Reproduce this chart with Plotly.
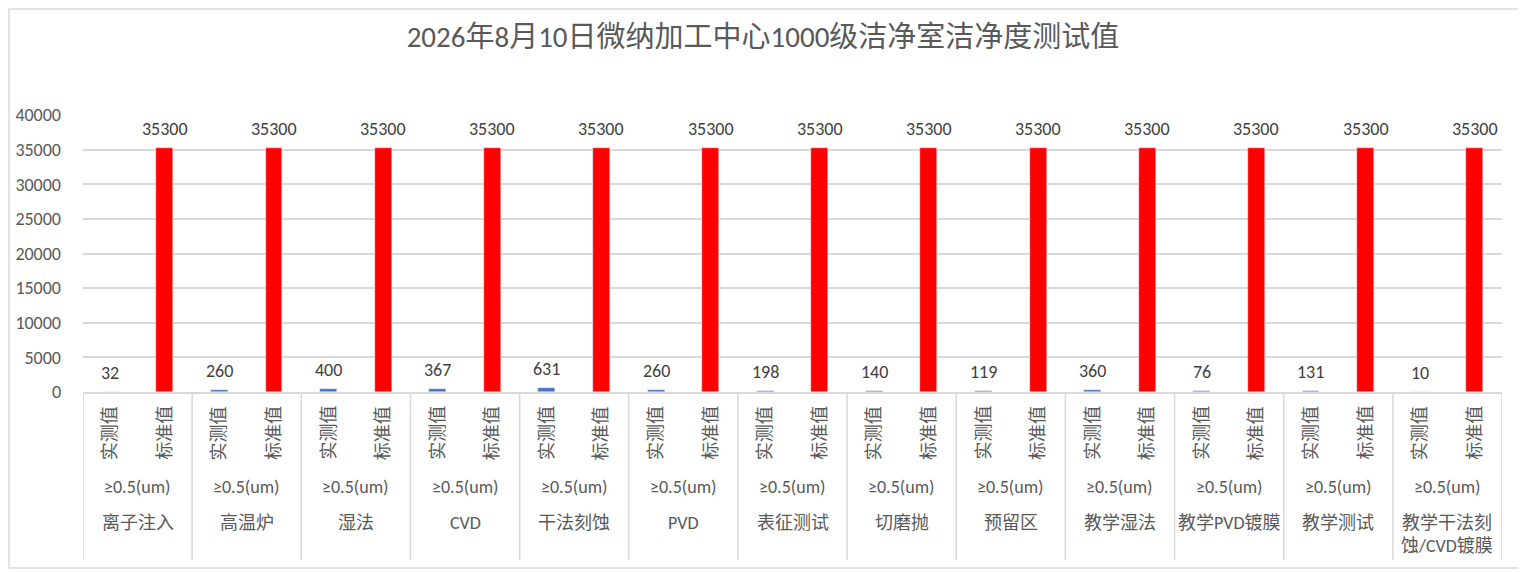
import plotly.graph_objects as go

# 洁净室各区域数据
areas = ["离子注入", "高温炉", "湿法", "CVD", "干法刻蚀", "PVD", "表征测试", "切磨抛",
         "预留区", "教学湿法", "教学PVD镀膜", "教学测试", "教学干法刻<br>蚀/CVD镀膜"]
measured = [32, 260, 400, 367, 631, 260, 198, 140, 119, 360, 76, 131, 10]
standard = [35300] * 13
sub_labels = ["实测值", "标准值"]
size_label = "≥0.5(um)"

title = "2026年8月10日微纳加工中心1000级洁净室洁净度测试值"

FONT = "Calibri, 'Noto Sans CJK SC', sans-serif"
GRID = "#d9d9d9"
TXT = "#595959"

# 页面body有8px边距，按参考图像素减去偏移
OFF = 8
W, H = 1526 - OFF, 572 - OFF
L, T = 83 - OFF, 115 - OFF
R = W - (1502 - OFF)
B = H - (392 - OFF)
ph = H - T - B
pw = W - L - R


def py(pix):
    # 参考图像素y -> paper坐标
    return (392 - pix) / ph


def px(pix):
    return (pix - 83) / pw


n = len(areas)
x_meas = [2 * i + 0.5 for i in range(n)]
x_std = [2 * i + 1.5 for i in range(n)]

fig = go.Figure()
fig.add_trace(go.Bar(x=x_meas, y=measured, width=0.31, marker_color="#4472C4",
                     name="实测值", showlegend=False, hoverinfo="y"))
fig.add_trace(go.Bar(x=x_std, y=standard, width=0.31, marker_color="#FF0000",
                     name="标准值", showlegend=False, hoverinfo="y"))

annotations = []
shapes = []

# 数据标签
for xs, vals in ((x_meas, measured), (x_std, standard)):
    for x, v in zip(xs, vals):
        annotations.append(dict(x=x, y=v, xref="x", yref="y", text=str(v), showarrow=False,
                                yanchor="bottom", yshift=6,
                                font=dict(family=FONT, size=18, color="#404040")))

# 多层分类轴标签
for i, name in enumerate(areas):
    for j, lab in enumerate(sub_labels):
        annotations.append(dict(x=2 * i + 0.5 + j, y=py(433), xref="x", yref="paper", text=lab,
                                showarrow=False, textangle=-90, yanchor="middle",
                                font=dict(family=FONT, size=18, color=TXT)))
    annotations.append(dict(x=2 * i + 1, y=py(487), xref="x", yref="paper", text=size_label,
                            showarrow=False, yanchor="middle",
                            font=dict(family=FONT, size=18, color=TXT)))
    annotations.append(dict(x=2 * i + 1, y=py(510), xref="x", yref="paper", text=name,
                            showarrow=False, yanchor="top",
                            font=dict(family=FONT, size=18, color=TXT)))

# 分组分隔线
for k in range(n + 1):
    shapes.append(dict(type="line", xref="x", yref="paper", x0=2 * k, x1=2 * k,
                       y0=0, y1=py(560), line=dict(color=GRID, width=1.5)))

# 图表外框
shapes.append(dict(type="rect", xref="paper", yref="paper", x0=px(OFF + 1), x1=px(1521),
                   y0=py(568), y1=py(OFF + 1), line=dict(color=GRID, width=1.5), layer="below"))

fig.update_layout(
    width=W, height=H,
    margin=dict(l=L, r=R, t=T, b=B, autoexpand=False),
    paper_bgcolor="white", plot_bgcolor="white",
    title=dict(text=title, x=px(763), xref="paper", xanchor="center",
               y=1 - (37 - OFF) / H, yanchor="middle",
               font=dict(family=FONT, size=29, color=TXT)),
    bargap=0,
    annotations=annotations,
    shapes=shapes,
)
fig.update_xaxes(range=[0, 2 * n], showticklabels=False, showgrid=False, zeroline=False,
                 showline=True, linecolor=GRID, linewidth=1.5, fixedrange=True, automargin=False)
fig.update_yaxes(range=[0, 40000], dtick=5000, tickformat="d", showgrid=True, gridcolor=GRID,
                 gridwidth=1.5, zeroline=False, showline=False, ticks="", ticklabelstandoff=21,
                 tickfont=dict(family=FONT, size=18, color=TXT), fixedrange=True, automargin=False)

fig.write_html("out.html")
